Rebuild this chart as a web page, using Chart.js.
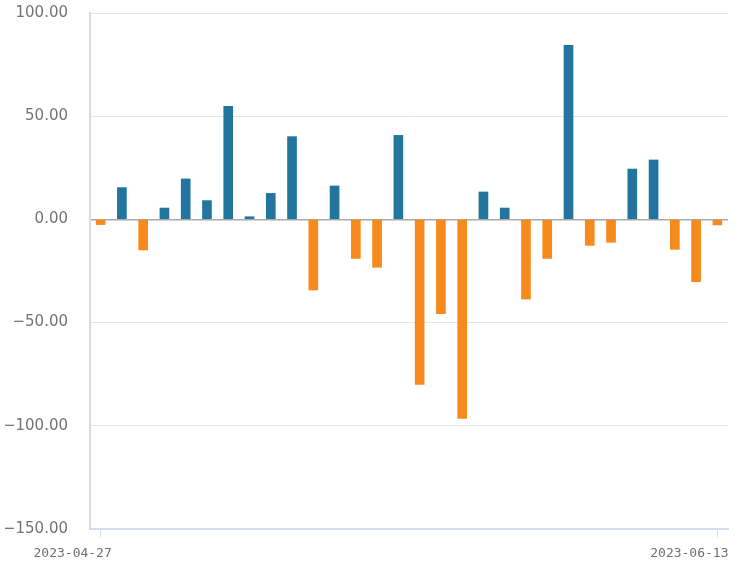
<!DOCTYPE html>
<html>
<head>
<meta charset="utf-8">
<script src="https://cdn.jsdelivr.net/npm/chart.js@4.4.0/dist/chart.umd.min.js"></script>
<style>
  html, body { margin: 0; padding: 0; background: #ffffff; }
  #wrap { width: 739px; height: 568px; position: relative; }
</style>
</head>
<body>
<div id="wrap"><canvas id="netChart"></canvas></div>
<script>
// trading days shown on the x axis (only first and last are labelled)
const dates = [
    '2023-04-27', '2023-04-28', '2023-05-05', '2023-05-08', '2023-05-09',
    '2023-05-10', '2023-05-11', '2023-05-12', '2023-05-15', '2023-05-16',
    '2023-05-17', '2023-05-18', '2023-05-19', '2023-05-22', '2023-05-23',
    '2023-05-24', '2023-05-25', '2023-05-26', '2023-05-29', '2023-05-30',
    '2023-05-31', '2023-06-01', '2023-06-02', '2023-06-05', '2023-06-06',
    '2023-06-07', '2023-06-08', '2023-06-09', '2023-06-12', '2023-06-13'
];
const netValues = [
    -2.5, 15.4, -14.8, 5.5, 19.6, 9.1, 54.8, 1.3, 12.6, 40.1,
    -34.2, 16.2, -18.9, -23.2, 40.7, -79.9, -45.7, -96.4, 13.3, 5.5,
    -38.6, -18.9, 84.3, -12.6, -11.1, 24.4, 28.8, -14.5, -30.2, -2.7
];
const yMin = -150;
const yMax = 100;
const yStep = 50;

const upColor = '#22759f';
const downColor = '#f78a1c';
const axisColor = '#d4dcef';
const lastIdx = dates.length - 1;

document.addEventListener('DOMContentLoaded', () => {
    new Chart(document.getElementById('netChart'), {
        type: 'bar',
        data: {
            labels: dates,
            datasets: [{
                data: netValues,
                backgroundColor: netValues.map(v => v >= 0 ? upColor : downColor),
                barThickness: 9
            }]
        },
        options: {
            responsive: true,
            maintainAspectRatio: false,
            animation: false,
            layout: { padding: { top: 13, right: 11, bottom: 0, left: 5 } },
            plugins: {
                legend: { display: false },
                tooltip: { enabled: false }
            },
            scales: {
                x: {
                    offset: true,
                    grid: {
                        offset: false,
                        drawOnChartArea: false,
                        tickLength: 8,
                        color: ctx => (ctx.index === 0 || ctx.index === lastIdx) ? axisColor : 'rgba(0,0,0,0)'
                    },
                    border: { display: true, color: axisColor, width: 2 },
                    ticks: {
                        autoSkip: false,
                        maxRotation: 0,
                        padding: 9,
                        labelOffset: -28,
                        color: '#707070',
                        font: { family: 'DejaVu Sans Mono', size: 13 },
                        callback: (v, i) => (i === 0 || i === lastIdx) ? dates[i] : ''
                    },
                    afterFit: scale => {
                        scale.height = 39;
                        scale.paddingLeft = 0;
                        scale.paddingRight = 0;
                    }
                },
                y: {
                    min: yMin,
                    max: yMax,
                    grid: {
                        drawTicks: false,
                        color: ctx => ctx.tick.value === 0 ? '#a9a9a9' : '#e6e6e6',
                        lineWidth: ctx => ctx.tick.value === 0 ? 1.5 : 1
                    },
                    border: { display: true, color: axisColor, width: 2 },
                    ticks: {
                        stepSize: yStep,
                        padding: 22,
                        color: '#737373',
                        font: { family: 'DejaVu Sans', size: 15 },
                        callback: v => v.toFixed(2).replace('-', '\u2212')
                    },
                    afterFit: scale => {
                        scale.width = 85;
                        scale.paddingTop = 0;
                        scale.paddingBottom = 0;
                    }
                }
            }
        }
    });
});
</script>
</body>
</html>
